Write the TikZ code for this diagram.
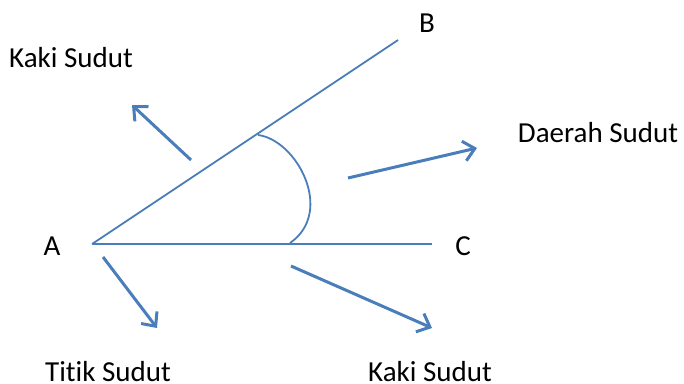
\documentclass[tikz,border=0pt]{standalone}
\usepackage{fontspec}
\setmainfont{Carlito}[Ligatures=CommonOff]
\usetikzlibrary{arrows.meta}

\definecolor{sudutblue}{RGB}{74,126,187}

\begin{document}
\begin{tikzpicture}[x=1pt,y=-1pt,
    leg/.style={draw=sudutblue,line width=1.8pt},
    pointer/.style={draw=sudutblue,line width=3pt,-{Straight Barb[length=11pt,width=20pt,line width=3pt]}},
    lbl/.style={font=\fontsize{29}{34}\selectfont,inner sep=0pt}]
  \useasboundingbox (0,0) rectangle (684,383);

  % vertex and the two legs
  \coordinate (a) at (92,244);
  \coordinate (b) at (398,40);
  \coordinate (c) at (432,244);
  \draw[leg] (a) -- (b);
  \draw[leg] (a) -- (c);
  \draw[leg] (258,135) .. controls (297,140) and (335,212) .. (290,243);

  \node[lbl] (labelA) at (52,246) {A};
  \node[lbl] (labelB) at (427,23) {B};
  \node[lbl] (labelC) at (463,246) {C};

  \node[lbl] (kakiAtas)  at (71,58)   {Kaki Sudut};
  \node[lbl] (daerah)    at (598,133) {Daerah Sudut};
  \node[lbl] (titik)     at (108,372) {Titik Sudut};
  \node[lbl] (kakiBawah) at (430,372) {Kaki Sudut};

  % pointers
  \coordinate (p1) at (191,160); \coordinate (q1) at (132,105);
  \coordinate (p2) at (348,178); \coordinate (q2) at (477,148);
  \coordinate (p3) at (103,257); \coordinate (q3) at (157,328);
  \coordinate (p4) at (291,266); \coordinate (q4) at (432,328);
  \draw[pointer] (p1) -- (q1);
  \draw[pointer] (p2) -- (q2);
  \draw[pointer] (p3) -- (q3);
  \draw[pointer] (p4) -- (q4);
\end{tikzpicture}
\end{document}
